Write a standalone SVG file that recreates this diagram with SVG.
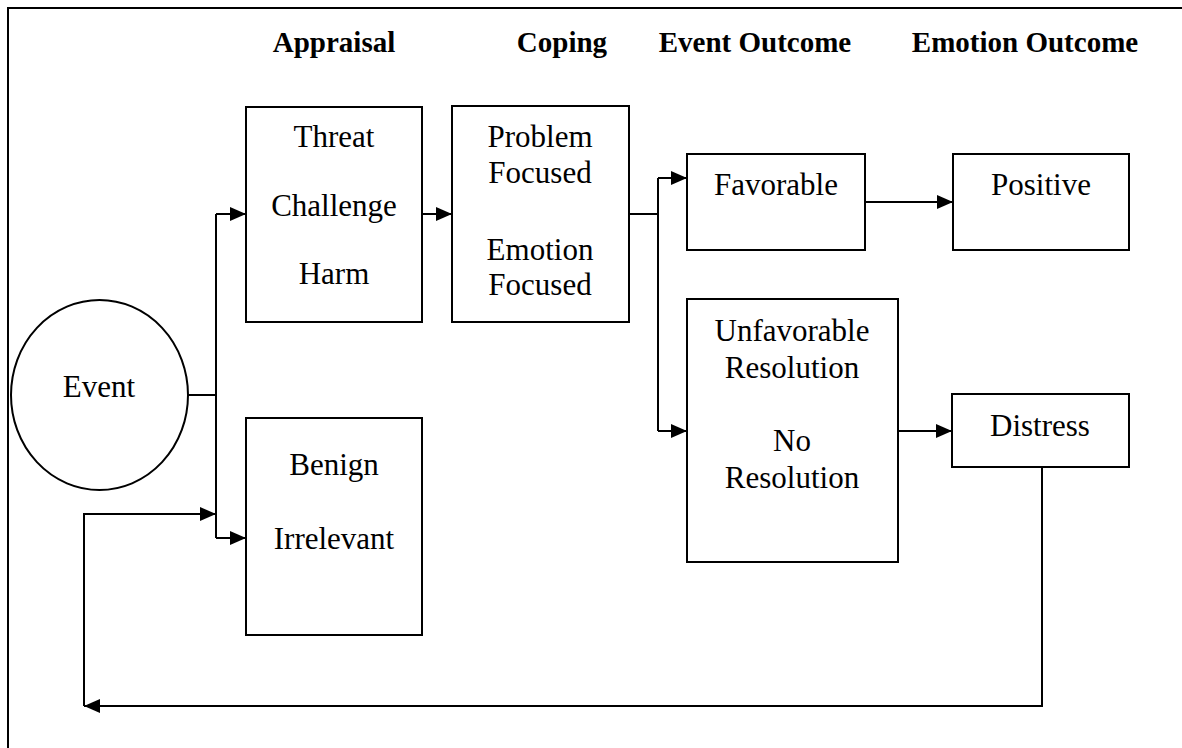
<svg xmlns="http://www.w3.org/2000/svg" width="1182" height="748" viewBox="0 0 1182 748">
<defs>
<marker id="arr" markerUnits="userSpaceOnUse" markerWidth="16" markerHeight="14" refX="16" refY="7" orient="auto">
<path d="M0,0 L16,7 L0,14 z" fill="#000"/>
</marker>
<style>
.box{fill:#fff;stroke:#000;stroke-width:2}
.t{font-family:"Liberation Serif","Times New Roman",serif;font-size:31px;text-anchor:middle;fill:#000}
.h{font-family:"Liberation Serif","Times New Roman",serif;font-size:29px;font-weight:bold;text-anchor:middle;fill:#000}
.c{fill:none;stroke:#000;stroke-width:2}
</style>
</defs>
<rect width="1182" height="748" fill="#fff"/>
<path d="M8,748 V8 H1182" fill="none" stroke="#000" stroke-width="2"/>
<g id="headers">
<text class="h" x="334" y="52">Appraisal</text>
<text class="h" x="562" y="52">Coping</text>
<text class="h" x="755" y="52">Event Outcome</text>
<text class="h" x="1025" y="52">Emotion Outcome</text>
</g>
<g id="connectors">
<path class="c" d="M188,395 H216"/>
<path class="c" d="M216,214 V538"/>
<path class="c" d="M216,214 H246" marker-end="url(#arr)"/>
<path class="c" d="M216,538 H246" marker-end="url(#arr)"/>
<path class="c" d="M422,214 H452" marker-end="url(#arr)"/>
<path class="c" d="M629,214 H658"/>
<path class="c" d="M658,178 V431"/>
<path class="c" d="M658,178 H687" marker-end="url(#arr)"/>
<path class="c" d="M658,431 H687" marker-end="url(#arr)"/>
<path class="c" d="M865,202 H953" marker-end="url(#arr)"/>
<path class="c" d="M898,431 H952" marker-end="url(#arr)"/>
<path class="c" d="M1042,467 V706 H84" marker-end="url(#arr)"/>
<path class="c" d="M84,706 V514 H216" marker-end="url(#arr)"/>
</g>
<g id="event">
<ellipse class="box" cx="99.5" cy="395" rx="88.5" ry="95"/>
<text class="t" x="99" y="397">Event</text>
</g>
<g id="threat">
<rect class="box" x="246" y="107" width="176" height="215"/>
<text class="t" x="334" y="147">Threat</text>
<text class="t" x="334" y="216">Challenge</text>
<text class="t" x="334" y="284">Harm</text>
</g>
<g id="benign">
<rect class="box" x="246" y="418" width="176" height="217"/>
<text class="t" x="334" y="475">Benign</text>
<text class="t" x="334" y="549">Irrelevant</text>
</g>
<g id="coping">
<rect class="box" x="452" y="106" width="177" height="216"/>
<text class="t" x="540" y="147">Problem</text>
<text class="t" x="540" y="183">Focused</text>
<text class="t" x="540" y="260">Emotion</text>
<text class="t" x="540" y="295">Focused</text>
</g>
<g id="favorable">
<rect class="box" x="687" y="154" width="178" height="96"/>
<text class="t" x="776" y="195">Favorable</text>
</g>
<g id="positive">
<rect class="box" x="953" y="154" width="176" height="96"/>
<text class="t" x="1041" y="195">Positive</text>
</g>
<g id="unfavorable">
<rect class="box" x="687" y="299" width="211" height="263"/>
<text class="t" x="792" y="341">Unfavorable</text>
<text class="t" x="792" y="378">Resolution</text>
<text class="t" x="792" y="451">No</text>
<text class="t" x="792" y="488">Resolution</text>
</g>
<g id="distress">
<rect class="box" x="952" y="394" width="177" height="73"/>
<text class="t" x="1040" y="436">Distress</text>
</g>
</svg>
